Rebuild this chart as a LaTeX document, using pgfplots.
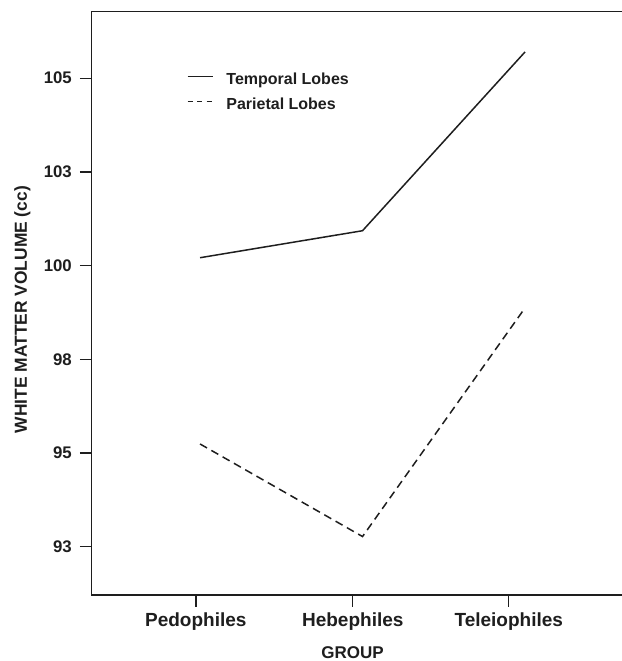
\documentclass[border=0pt]{standalone}
\usepackage{pgfplots}
\pgfplotsset{compat=1.18}
\usepackage{fontspec}
\setmainfont{Liberation Sans}
\definecolor{ink}{HTML}{1E1E1E}
\begin{document}
\begin{tikzpicture}
\begin{axis}[
  scale only axis, width=530.5pt, height=583.5pt,
  xmin=-0.668, xmax=2.597, ymin=91.21, ymax=106.78,
  axis x line*=box, axis y line*=left,
  xtick pos=lower, ytick pos=left,
  xtick={-0.026,0.94,1.90},
  xticklabels={\textbf{Pedophiles},\textbf{Hebephiles},\textbf{Teleiophiles}},
  ytick={92.5,95,97.5,100,102.5,105},
  yticklabels={\textbf{93},\textbf{95},\textbf{98},\textbf{100},\textbf{103},\textbf{105}},
  tick align=outside, major tick length=11.5pt,
  tick style={line width=1.4pt, color=ink},
  axis line style={line width=1.4pt, color=ink},
  xticklabel style={font=\fontsize{19}{21}\selectfont\bfseries, text=ink, inner sep=0pt, yshift=-6pt},
  yticklabel style={font=\fontsize{16.8}{19}\selectfont\bfseries, text=ink, inner sep=0pt, xshift=-8pt},
  xlabel={\textbf{GROUP}},
  ylabel={\textbf{WHITE MATTER VOLUME (cc)}},
  every axis x label/.style={at={(axis description cs:0.492,0)}, anchor=center, yshift=-58pt, font=\fontsize{17}{19}\selectfont\bfseries, text=ink},
  every axis y label/.style={at={(axis description cs:-0.1305,0.489)}, anchor=center, rotate=90, font=\fontsize{17.4}{19}\selectfont\bfseries, text=ink},
  legend style={draw=none, fill=none, at={(axis description cs:0.1795,0.895)}, anchor=north west,
    inner sep=0pt, font=\fontsize{16}{18}\selectfont\bfseries, text=ink,
    nodes={inner sep=0pt, text height=12pt, text depth=4pt},
    row sep=9pt, column sep=13pt},
  legend cell align=left,
  legend image code/.code={\draw[#1] (0pt,4.5pt) -- (25pt,4.5pt);},
]
\addplot[ink, line width=1.5pt] coordinates {(0,100.21) (1,100.93) (2,105.70)};
\addlegendentry{Temporal Lobes}
\addplot[ink, line width=1.5pt, dash pattern=on 8pt off 5pt,
  legend image post style={dash pattern=on 5pt off 4.5pt}] coordinates {(0,95.24) (1,92.77) (2,98.87)};
\addlegendentry{Parietal Lobes}
\end{axis}
\path (current axis.south west) ++(-91.5pt,-66pt) coordinate (bl);
\path (current axis.north east) ++(0pt,11.5pt) coordinate (tr);
\pgfresetboundingbox
\path (bl) rectangle (tr);
\end{tikzpicture}
\end{document}
